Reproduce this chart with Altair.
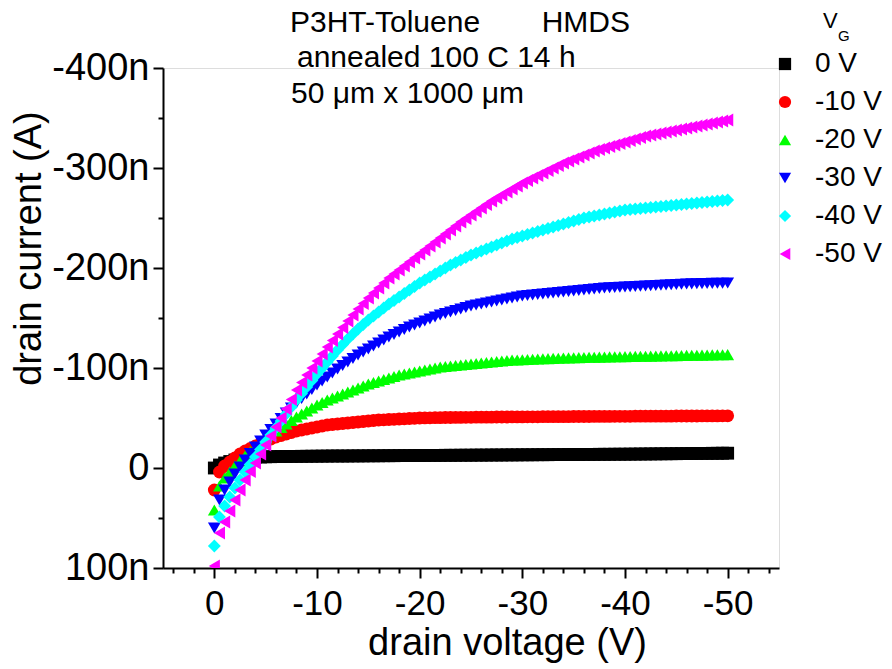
import altair as alt
import numpy as np
import pandas as pd

# drain voltage sweep (V), 0.5 V steps from 0 to -50 V
VD = [round(-0.5 * i, 1) for i in range(101)]

GATE_LABELS = ["0 V", "-10 V", "-20 V", "-30 V", "-40 V", "-50 V"]
COLORS = ["#000000", "#ff0000", "#00ff00", "#0000ff", "#00ffff", "#ff00ff"]
SHAPES = ["square", "circle", "triangle-up", "triangle-down", "diamond", "triangle-left"]

# drain current in nA
I_0 = [0, -3, -5, -6.5, -8, -9, -10, -10.5, -11, -11, -11.2,
       -11.3, -11.4, -11.5, -11.5, -11.6, -11.6, -11.7, -11.7, -11.8, -11.8,
       -11.9, -11.9, -12, -12, -12, -12, -12.1, -12.1, -12.1, -12.2,
       -12.2, -12.2, -12.3, -12.3, -12.3, -12.4, -12.4, -12.4, -12.5, -12.5,
       -12.5, -12.6, -12.6, -12.6, -12.7, -12.7, -12.7, -12.8, -12.8, -12.8,
       -12.9, -12.9, -12.9, -13, -13, -13, -13.1, -13.1, -13.1, -13.2,
       -13.2, -13.2, -13.3, -13.3, -13.3, -13.4, -13.4, -13.4, -13.5, -13.5,
       -13.5, -13.6, -13.6, -13.6, -13.7, -13.7, -13.7, -13.8, -13.8, -13.8,
       -13.9, -13.9, -14, -14, -14.1, -14.1, -14.2, -14.2, -14.3, -14.3,
       -14.4, -14.4, -14.5, -14.5, -14.6, -14.6, -14.7, -14.7, -14.8, -14.8]

I_10 = [22, 4, -2, -6, -10, -14, -17, -19.5, -22, -24.5, -27,
        -29, -31, -32.5, -34, -35.5, -37, -38, -39, -40, -41,
        -42, -43, -43.5, -44, -44.5, -45, -45.5, -46, -46.5, -47,
        -47.5, -48, -48.2, -48.5, -48.7, -49, -49.2, -49.5, -49.7, -50,
        -50.1, -50.2, -50.3, -50.4, -50.5, -50.5, -50.6, -50.6, -50.7, -50.7,
        -50.8, -50.8, -50.9, -50.9, -51, -51, -51, -51.1, -51.1, -51.1,
        -51.2, -51.2, -51.2, -51.3, -51.3, -51.3, -51.4, -51.4, -51.4, -51.5,
        -51.5, -51.5, -51.5, -51.6, -51.6, -51.6, -51.6, -51.7, -51.7, -51.7,
        -51.7, -51.8, -51.8, -51.8, -51.8, -51.9, -51.9, -51.9, -51.9, -52,
        -52, -52, -52, -52, -52.1, -52.1, -52.1, -52.1, -52.2, -52.2]

I_20 = [42, 18, 10, 4, -2, -7, -12, -16.5, -21, -25, -29,
        -33, -37, -40.5, -44, -47.5, -51, -54, -57, -60, -63,
        -65.5, -68, -70, -72, -74, -76, -78, -80, -82, -84,
        -85.5, -87, -88.5, -90, -91.5, -93, -94, -95, -96, -97,
        -98, -99, -100, -101, -101.5, -102, -102.5, -103, -103.5, -104,
        -104.5, -105, -105.5, -106, -106.5, -107, -107.5, -108, -108, -108.2,
        -108.5, -108.7, -109, -109.2, -109.4, -109.6, -109.8, -110, -110.1, -110.2,
        -110.4, -110.5, -110.7, -110.8, -110.9, -111, -111.1, -111.2, -111.3, -111.4,
        -111.5, -111.6, -111.7, -111.8, -111.9, -112, -112.1, -112.2, -112.3, -112.4,
        -112.5, -112.6, -112.7, -112.8, -112.9, -113, -113.1, -113.2, -113.3, -113.4]

I_30 = [60, 32, 22, 14, 6, -1, -8, -14.5, -21, -27, -33,
        -38.5, -44, -49.5, -55, -60, -65, -69.5, -74, -78.5, -83,
        -87, -91, -95, -99, -102.5, -106, -109.5, -113, -116, -119,
        -122, -125, -128, -131, -133.5, -136, -138.5, -141, -143, -145,
        -147, -149, -151, -153, -154.5, -156, -157.5, -159, -160.5, -162,
        -163, -164, -165, -166, -167, -168, -169, -170, -171, -172,
        -172.5, -173, -173.5, -174, -174.5, -175, -175.5, -176, -176.5, -177,
        -177.5, -178, -178.5, -179, -179.5, -180, -180.2, -180.5, -180.7, -181,
        -181.2, -181.5, -181.7, -182, -182.2, -182.5, -182.7, -183, -183.2, -183.5,
        -183.7, -184, -184.1, -184.3, -184.4, -184.5, -184.6, -184.7, -184.8, -185]

I_40 = [78, 49, 38, 29, 20, 12, 4, -3.5, -11, -18.5, -26,
        -33, -40, -47, -54, -61, -68, -74.5, -81, -87.5, -94,
        -100, -106, -112, -118, -123.5, -129, -134, -139, -143.5, -148,
        -152, -156, -160, -164, -167.5, -171, -174.5, -178, -181.5, -185,
        -188, -191, -194, -197, -200, -203, -205.5, -208, -210.5, -213,
        -215, -217, -219, -221, -223, -225, -227, -229, -230.5, -232,
        -233.5, -235, -236.5, -238, -239.5, -241, -242.5, -244, -245.5, -247,
        -248.5, -250, -251, -252, -253, -254, -255, -256, -257, -258,
        -258.5, -259, -259.5, -260, -260.5, -261, -261.5, -262, -262.5, -263,
        -263.5, -264, -264.5, -265, -265.5, -266, -266.5, -267, -267.5, -268]

I_50 = [98, 65, 54, 43, 32, 22, 12, 3.5, -5, -14, -23,
        -32, -41, -50, -59, -68.5, -78, -85.5, -93, -100, -107,
        -114, -121, -127.5, -134, -140.5, -147, -153, -159, -164.5, -170,
        -175, -180, -185, -190, -194, -198, -202, -206, -210, -214,
        -218, -222, -226, -230, -234, -238, -242, -246, -249.5, -253,
        -256.5, -260, -263.5, -267, -270, -273, -276, -279, -282, -285,
        -287.5, -290, -292.5, -295, -297.5, -300, -302.5, -305, -307, -309,
        -311, -313, -315, -317, -318.5, -320, -321.5, -323, -324.5, -326,
        -327.5, -329, -330.5, -332, -333, -334, -335, -336, -337, -338,
        -339, -340, -341, -342, -343, -344, -345, -346, -347, -348]

SERIES = [I_0, I_10, I_20, I_30, I_40, I_50]

X_TICKS = [4, 2, 0, -2, -4, -6, -8, -10, -12, -14, -16, -18, -20, -22, -24, -26,
           -28, -30, -32, -34, -36, -38, -40, -42, -44, -46, -48, -50, -52, -54]
Y_TICKS = [100, 50, 0, -50, -100, -150, -200, -250, -300, -350, -400]

rows = []
for lab, vals in zip(GATE_LABELS, SERIES):
    for v, i in zip(VD, vals):
        rows.append({"vd": v, "id": i, "vg": lab})
df = pd.DataFrame(rows)

FONT = "Liberation Sans"
L, T = 163, 68  # plot origin in page pixels

legend = alt.Legend(
    title=None, orient="none", legendX=771 - L, legendY=50 - T,
    labelFont=FONT, labelFontSize=28, labelColor="black",
    symbolSize=150, symbolStrokeWidth=0, symbolType="square",
    rowPadding=10, labelOffset=16, padding=0,
)

points = alt.Chart(df).mark_point(filled=True, size=165, opacity=1, clip=True).encode(
    x=alt.X("vd:Q",
            scale=alt.Scale(domain=[5, -55], nice=False, zero=False),
            axis=alt.Axis(
                values=X_TICKS, title="drain voltage (V)",
                labelExpr="datum.value % 10 === 0 ? '' + datum.value : ''",
                tickSize={"condition": {"test": "datum.value % 10 === 0", "value": 10}, "value": 5},
                labelFont=FONT, labelFontSize=35, labelColor="black", labelPadding=8,
                titleFont=FONT, titleFontSize=38, titleFontWeight="normal", titleColor="black",
                titleX=344, titleY=86, titleBaseline="alphabetic",
                domainColor="black", domainWidth=2, tickColor="black", tickWidth=2,
                grid=False, labelOverlap=False,
            )),
    y=alt.Y("id:Q",
            scale=alt.Scale(domain=[100, -400], nice=False, zero=False),
            axis=alt.Axis(
                values=Y_TICKS, title="drain current (A)",
                labelExpr="datum.value % 100 === 0 ? (datum.value === 0 ? '0' : datum.value + 'n') : ''",
                tickSize={"condition": {"test": "datum.value % 100 === 0", "value": 10}, "value": 5},
                labelFont=FONT, labelFontSize=38, labelColor="black", labelPadding=4,
                titleFont=FONT, titleFontSize=38, titleFontWeight="normal", titleColor="black",
                titleX=40 - L, titleY=180, titleBaseline="alphabetic", titleAngle=270,
                domainColor="black", domainWidth=2, tickColor="black", tickWidth=2,
                grid=False, labelOverlap=False,
            )),
    color=alt.Color("vg:N", scale=alt.Scale(domain=GATE_LABELS, range=COLORS), legend=legend),
    shape=alt.Shape("vg:N", scale=alt.Scale(domain=GATE_LABELS, range=SHAPES), legend=legend),
)


def label(txt, x, y, size, align="left"):
    return alt.Chart(pd.DataFrame({"t": [txt]})).mark_text(
        align=align, baseline="alphabetic", font=FONT, fontSize=size, color="black"
    ).encode(text="t:N", x=alt.value(x - L), y=alt.value(y - T))


texts = [
    label("P3HT-Toluene", 290, 32, 30),
    label("HMDS", 630, 32, 30, align="right"),
    label("annealed 100 C 14 h", 297, 67, 30),
    label("50 μm x 1000 μm", 291, 103, 30),
    label("V", 823, 28, 22),
    label("G", 838, 41, 15),
]

chart = alt.layer(points, *texts).properties(
    width=616, height=500,
    padding={"left": L, "top": T, "right": 892 - L - 616, "bottom": 669 - T - 500},
    autosize=alt.AutoSizeParams(type="none"),
).configure_view(stroke=None).configure(background="white")

chart.save("out.html", embed_options={"renderer": "svg", "actions": False})
